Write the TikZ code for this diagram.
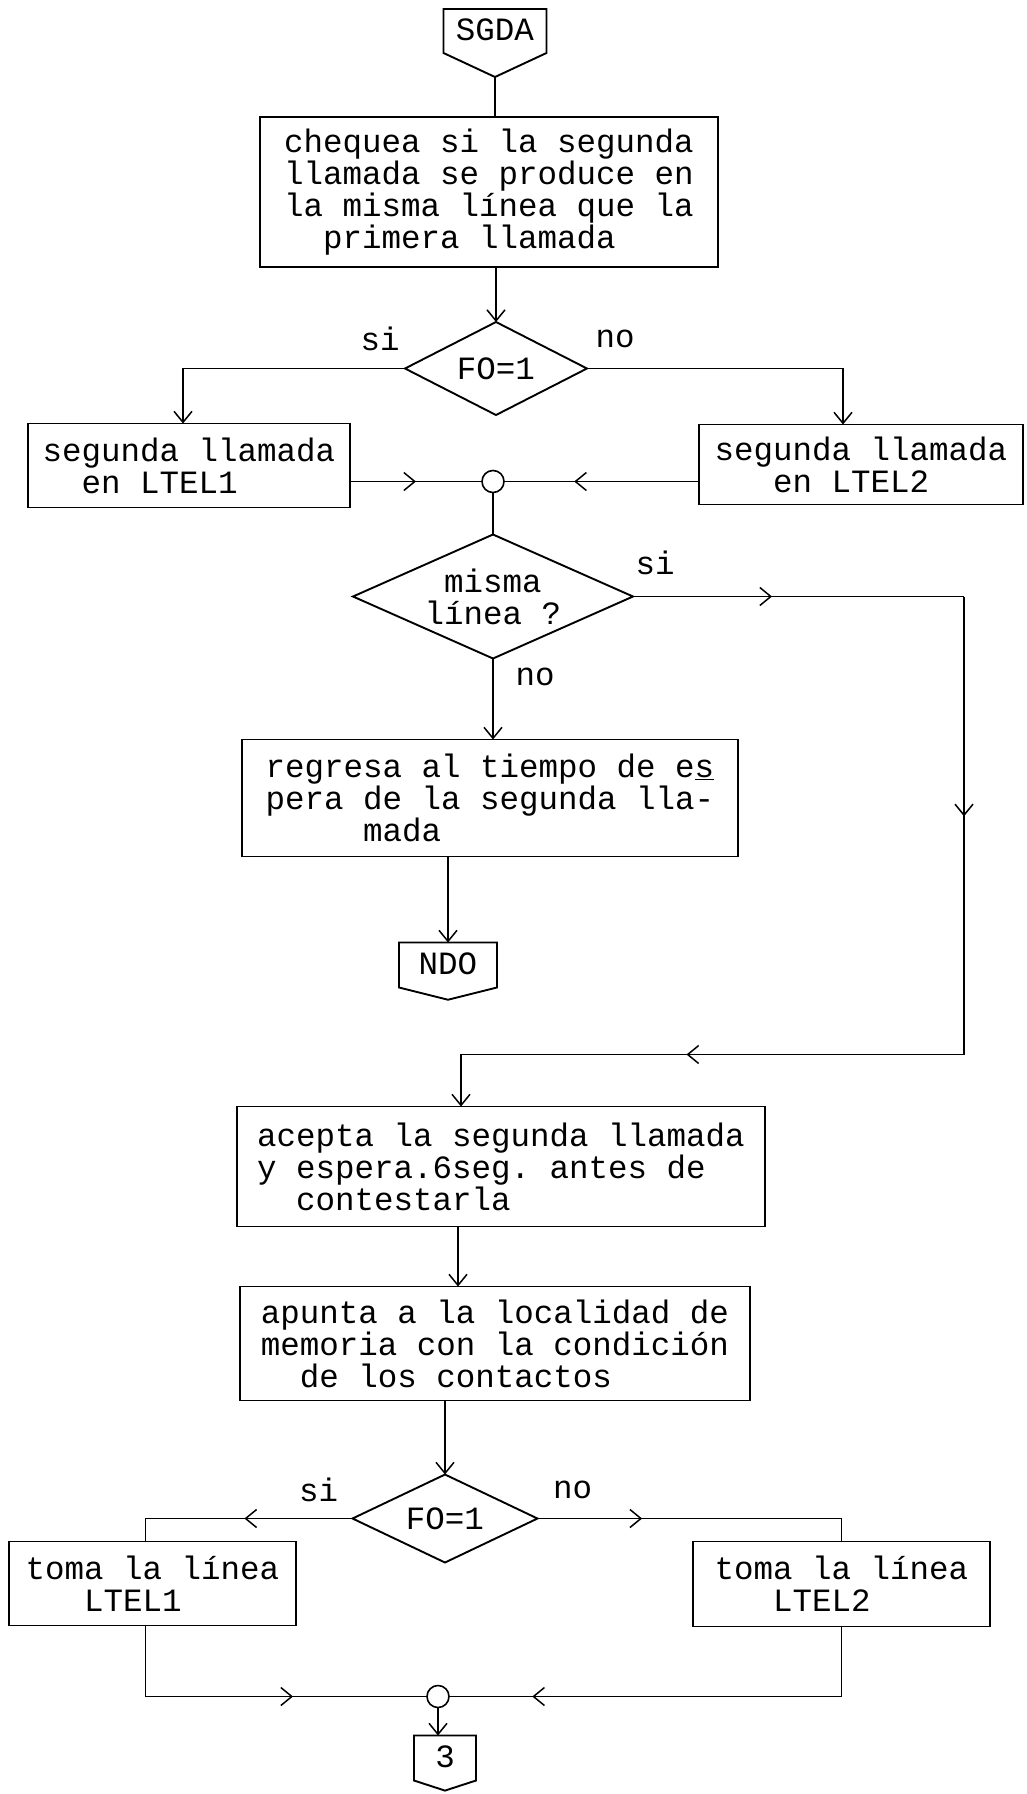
\documentclass[tikz,border=0pt]{standalone}
\usepackage{fontspec}
\setmonofont{Liberation Mono}
\usetikzlibrary{arrows.meta,positioning,calc,shapes.geometric,shapes.symbols,decorations.markings}
\newcommand{\ind}[1]{\hspace*{#1\fontdimen2\font}}
\tikzset{
  >={Straight Barb[length=11pt,width=18pt]},
  txt/.style={font=\ttfamily\fontsize{32.5pt}{32pt}\selectfont},
  blk/.style={txt,draw,rectangle,line width=1.9pt,align=left,inner sep=0pt,outer sep=0pt},
  dec/.style={txt,draw,diamond,line width=1.9pt,inner sep=0pt,outer sep=0pt,align=center,shape aspect=2.2},
  con/.style={txt,draw,signal,signal to=south,line width=1.9pt,inner xsep=0pt,outer sep=0pt,text height=19pt,text depth=0pt},
  jnc/.style={draw,circle,line width=1.6pt,minimum size=22pt,inner sep=0pt,outer sep=0pt},
  lnk/.style={line width=1.5pt},
  arr/.style={lnk,->},
  midarr/.style={lnk,postaction={decorate,decoration={markings,mark=at position #1 with {\arrow{>}}}}},
  midarr/.default=0.5,
  lbl/.style={txt,inner sep=0pt}
}
\begin{document}
\begin{tikzpicture}
  \useasboundingbox (0,0) rectangle (1026pt,-1794pt);
  \node[blk, minimum width=458pt, minimum height=150pt] (chk) at (489pt,-192pt) {chequea si la segunda\\llamada se produce en\\la misma línea que la\\\ind{2}primera llamada};
  \node[con, minimum width=103pt, inner ysep=12.5pt, signal pointer angle=130, above=40pt of chk, xshift=6pt] (sgda) {SGDA};
  \node[dec, minimum width=182pt, minimum height=93pt, below=55pt of chk, xshift=7pt] (dec1) {FO=1};
  \node[blk, minimum width=322pt, minimum height=84pt, below=55pt of dec1.west, xshift=-216pt] (lt1) {segunda llamada\\\ind{2}en LTEL1};
  \node[blk, minimum width=324pt, minimum height=80pt, below=56pt of dec1.east, xshift=274pt] (lt2) {segunda llamada\\\ind{3}en LTEL2};
  \node[jnc, right=132pt of lt1.east, yshift=-16pt] (jn1) {};
  \node[dec, minimum width=280pt, minimum height=124pt, inner sep=-12pt, below=42pt of jn1] (dec2) {misma\\línea ?};
  \node[blk, minimum width=496pt, minimum height=117pt, below=81pt of dec2, xshift=-3pt] (box3) {regresa al tiempo de e\underline{s}\\pera de la segunda lla-\\\ind{5}mada};
  \node[con, minimum width=98pt, inner ysep=13pt, signal pointer angle=152, below=86pt of box3, xshift=-42pt] (ndo) {NDO};
  \node[blk, minimum width=528pt, minimum height=120pt, below=250pt of box3, xshift=11pt] (box4) {acepta la segunda llamada\\y espera.6seg. antes de\\\ind{2}contestarla};
  \node[blk, minimum width=510pt, minimum height=114pt, below=60pt of box4, xshift=-6pt] (box5) {apunta a la localidad de\\memoria con la condición\\\ind{2}de los contactos};
  \node[dec, minimum width=185pt, minimum height=88pt, below=74pt of box5, xshift=-50pt] (dec3) {FO=1};
  \node[blk, minimum width=287pt, minimum height=84pt, below=23pt of dec3.west, xshift=-200pt] (tl1) {toma la línea\\\ind{3}LTEL1};
  \node[blk, minimum width=297pt, minimum height=85pt, below=23pt of dec3.east, xshift=304pt] (tl2) {toma la línea\\\ind{3}LTEL2};
  \node[jnc, below=123pt of dec3, xshift=-7pt] (jn2) {};
  \node[con, minimum width=62pt, inner ysep=13pt, signal pointer angle=144, below=28pt of jn2, xshift=7pt] (c3) {3};

  % si / no
  \node[lbl] (si1) at ([xshift=-25pt,yshift=30pt]dec1.west) {si};
  \node[lbl] (no1) at ([xshift=28pt,yshift=30pt]dec1.east) {no};
  \node[lbl] (si2) at ([xshift=22pt,yshift=34pt]dec2.east) {si};
  \node[lbl] (no2) at ([xshift=42pt,yshift=-18pt]dec2.south) {no};
  \node[lbl] (si3) at ([xshift=-34pt,yshift=29pt]dec3.west) {si};
  \node[lbl] (no3) at ([xshift=35pt,yshift=29pt]dec3.east) {no};

  \draw[lnk] (sgda.south) -- (sgda.south |- chk.north);
  \draw[arr] (chk.south -| dec1.north) -- (dec1.north);
  \draw[arr] (dec1.west) -| ([xshift=-6pt]lt1.north);
  \draw[arr] (dec1.east) -| ([xshift=-18pt]lt2.north);
  \draw[midarr] (lt1.east |- jn1.west) -- (jn1.west);
  \draw[midarr=0.64] (lt2.west |- jn1.east) -- (jn1.east);
  \draw[lnk] (jn1.south) -- (dec2.north);
  \draw[arr] (dec2.south) -- (dec2.south |- box3.north);
  \draw[arr] (box3.south -| ndo.north) -- (ndo.north);

  % si-branch runs round the right side
  \coordinate (rtop) at ([xshift=331pt]dec2.east);
  \coordinate (rbot) at ($(rtop |- box4.north)+(0,52pt)$);
  \draw[midarr=0.42] (dec2.east) -- (rtop);
  \draw[midarr=0.48] (rtop) -- (rbot);
  \draw[arr,midarr=0.5] (rbot) -| ([xshift=-40pt]box4.north);

  \draw[arr] ([xshift=-43pt]box4.south) -- ([xshift=-43pt]box4.south |- box5.north);
  \draw[arr] (box5.south -| dec3.north) -- (dec3.north);
  \draw[midarr=0.47] (dec3.west) -| ([xshift=-7pt]tl1.north);
  \draw[midarr=0.32] (dec3.east) -| (tl2.north);
  \draw[midarr=0.62] ([xshift=-7pt]tl1.south) |- (jn2.west);
  \draw[midarr=0.82] (tl2.south) |- (jn2.east);
  \draw[arr] (jn2.south) -- (jn2.south |- c3.north);
\end{tikzpicture}
\end{document}
